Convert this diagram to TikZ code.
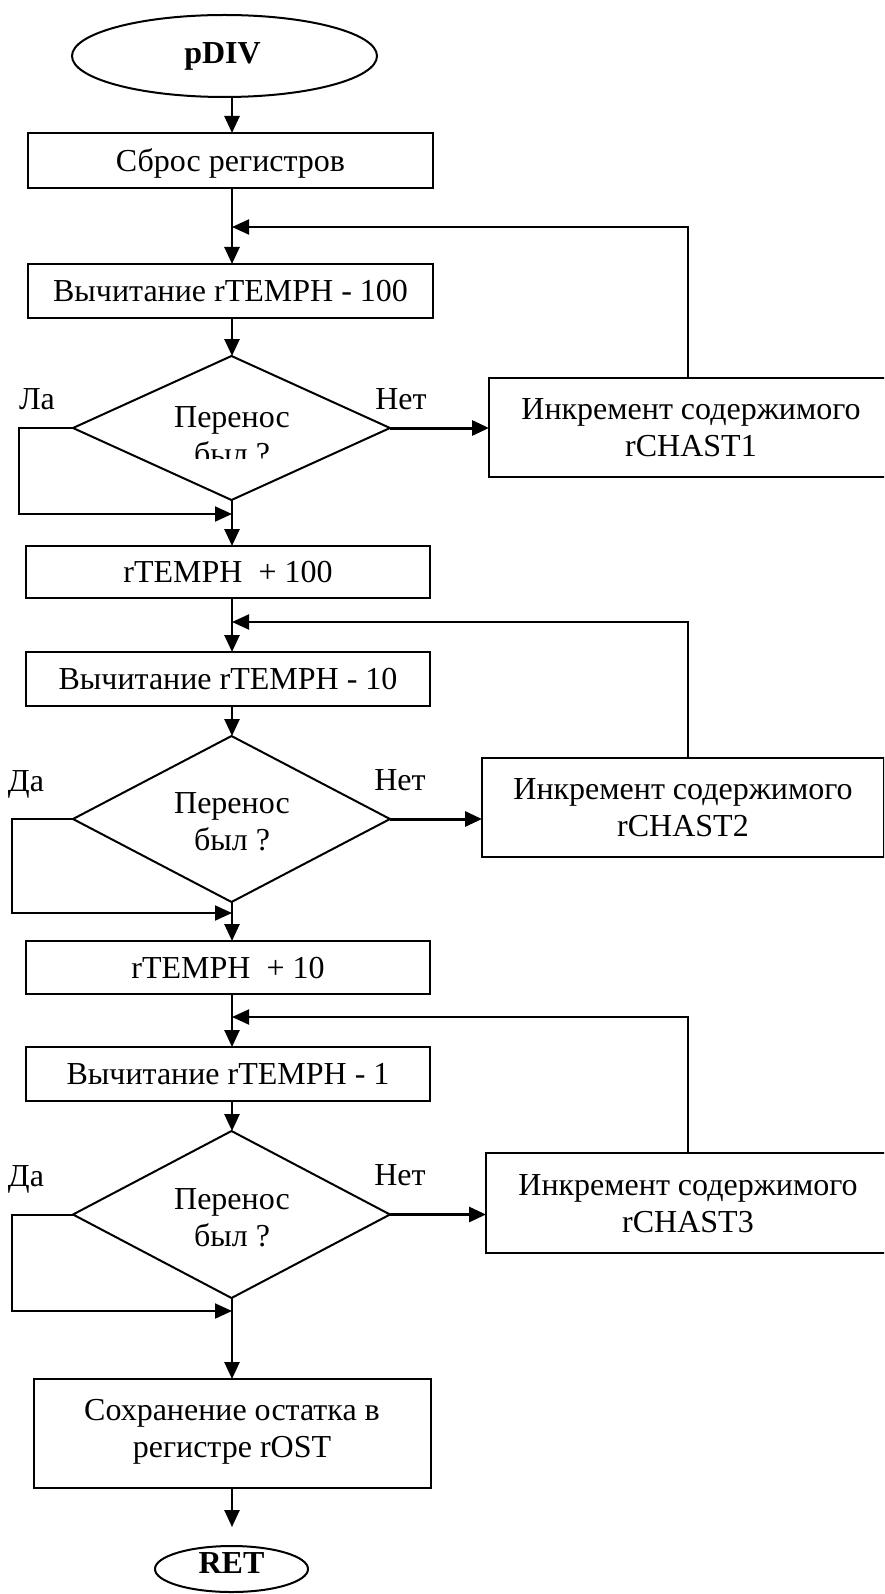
\documentclass[tikz,border=0pt]{standalone}
\usepackage{fontspec}
\setmainfont{Liberation Serif}
\usetikzlibrary{arrows.meta,shapes.geometric}
\begin{document}
\begin{tikzpicture}[x=1pt,y=-1pt,
  every node/.style={font=\fontsize{32}{37}\selectfont, inner sep=0pt, outer sep=0pt},
  blk/.style={draw, line width=2pt, rectangle, text height=21.2pt, text depth=0pt, align=center},
  blk2/.style={draw, line width=2pt, rectangle, text height=58.2pt, text depth=0pt, align=center},
  dec/.style={draw, line width=2pt, shape=diamond},
  term/.style={draw, line width=2pt, shape=ellipse},
  ttext/.style={font=\fontsize{32}{37}\selectfont\bfseries, text height=21.2pt, text depth=0pt},
  dtext/.style={align=center, text height=58.2pt, text depth=0pt},
  lbl/.style={anchor=base},
  arr/.style={line width=2.6pt, -{Triangle[length=17pt,width=15pt]}},
  arrthick/.style={line width=3pt, -{Triangle[length=17pt,width=15pt]}},
  loopline/.style={line width=2pt, -{Triangle[length=17pt,width=15pt]}}
]
\useasboundingbox (0,0) rectangle (884,1594);
\clip (0,0) rectangle (884,1594);
\coordinate (ax) at (232,0);

% terminals
\node[term, minimum width=305pt, minimum height=82pt] (pdiv) at (224.5,56) {};
\node[ttext] (tp) at (222.5,53) {pDIV};
\node[term, minimum width=153pt, minimum height=46pt] (ret) at (231.5,1569) {};
\node[ttext] (tr) at (231.5,1562.5) {RET};

% process boxes
\node[blk, minimum width=405pt, minimum height=55pt] (b1) at (230.5,160.5) {Сброс регистров};
\node[blk, minimum width=405pt, minimum height=54pt] (b2) at (230.5,291) {Вычитание rTEMPH - 100};
\node[blk, minimum width=404pt, minimum height=52pt] (b3) at (228,572) {rTEMPH\ \ + 100};
\node[blk, minimum width=404pt, minimum height=54pt] (b4) at (228,679) {Вычитание rTEMPH - 10};
\node[blk, minimum width=404pt, minimum height=53pt] (b5) at (228,967.5) {rTEMPH\ \ + 10};
\node[blk, minimum width=404pt, minimum height=54pt] (b6) at (228,1074) {Вычитание rTEMPH - 1};
\node[draw, line width=2pt, rectangle, minimum width=397pt, minimum height=109pt] (b7) at (232.5,1433.5) {};
\node[dtext] (tb7) at (232,1428) {Сохранение остатка в\\регистре rOST};

% increment boxes
\node[blk2, minimum width=404pt, minimum height=99pt] (inc1) at (691,427.5) {Инкремент содержимого\\rCHAST1};
\node[blk2, minimum width=402pt, minimum height=99pt] (inc2) at (683,807.5) {Инкремент содержимого\\rCHAST2};
\node[blk2, minimum width=404pt, minimum height=100pt] (inc3) at (688,1203) {Инкремент содержимого\\rCHAST3};

% decisions
\node[dec, minimum width=317pt, minimum height=144pt] (d1) at (231.5,428) {};
\begin{scope}
  \clip (100,380) rectangle (360,458);
  \node[dtext] (td1) at (232,435) {Перенос\\был ?};
\end{scope}
\node[dec, minimum width=317pt, minimum height=166pt] (d2) at (231.5,819) {};
\node[dtext] (td2) at (232,821) {Перенос\\был ?};
\node[dec, minimum width=317pt, minimum height=167pt] (d3) at (231.5,1214.5) {};
\node[dtext] (td3) at (232,1217) {Перенос\\был ?};

% branch labels
\node[lbl] (l1) at (37,409) {Ла};
\node[lbl] (n1) at (401,409) {Нет};
\node[lbl] (l2) at (26,791) {Да};
\node[lbl] (n2) at (400,790) {Нет};
\node[lbl] (l3) at (26,1186) {Да};
\node[lbl] (n3) at (400,1185) {Нет};

% helper coordinates
\coordinate (j1) at (232,227);  \coordinate (lp1) at (688,227);
\coordinate (j2) at (232,622);  \coordinate (lp2) at (688,622);
\coordinate (j3) at (232,1017); \coordinate (lp3) at (688,1017);
\coordinate (ya1) at (19,428);  \coordinate (yb1) at (19,514);  \coordinate (m1) at (232,514);
\coordinate (ya2) at (12,819);  \coordinate (yb2) at (12,913);  \coordinate (m2) at (232,913);
\coordinate (ya3) at (12,1214.5); \coordinate (yb3) at (12,1311); \coordinate (m3) at (232,1311);
\coordinate (rt) at (232,1527);

% main flow
\draw[arr] (pdiv.south -| ax) -- (b1.north -| ax);
\draw[arr] (b1.south -| ax) -- (b2.north -| ax);
\draw[arr] (b2.south -| ax) -- (d1.north -| ax);
\draw[arr] (d1.south -| ax) -- (b3.north -| ax);
\draw[arr] (b3.south -| ax) -- (b4.north -| ax);
\draw[arr] (b4.south -| ax) -- (d2.north -| ax);
\draw[arr] (d2.south -| ax) -- (b5.north -| ax);
\draw[arr] (b5.south -| ax) -- (b6.north -| ax);
\draw[arr] (b6.south -| ax) -- (d3.north -| ax);
\draw[arr] (d3.south -| ax) -- (b7.north -| ax);
\draw[arr] (b7.south -| ax) -- (rt);

% No branches
\draw[arrthick] (d1.east) -- (d1.east -| inc1.west);
\draw[arrthick] (d2.east) -- (d2.east -| inc2.west);
\draw[arrthick] (d3.east) -- (d3.east -| inc3.west);

% loops back
\draw[loopline] (inc1.north -| lp1) -- (lp1) -- (j1);
\draw[loopline] (inc2.north -| lp2) -- (lp2) -- (j2);
\draw[loopline] (inc3.north -| lp3) -- (lp3) -- (j3);

% Yes branches
\draw[loopline] (d1.west) -- (ya1) -- (yb1) -- (m1);
\draw[loopline] (d2.west) -- (ya2) -- (yb2) -- (m2);
\draw[loopline] (d3.west) -- (ya3) -- (yb3) -- (m3);
\end{tikzpicture}
\end{document}
